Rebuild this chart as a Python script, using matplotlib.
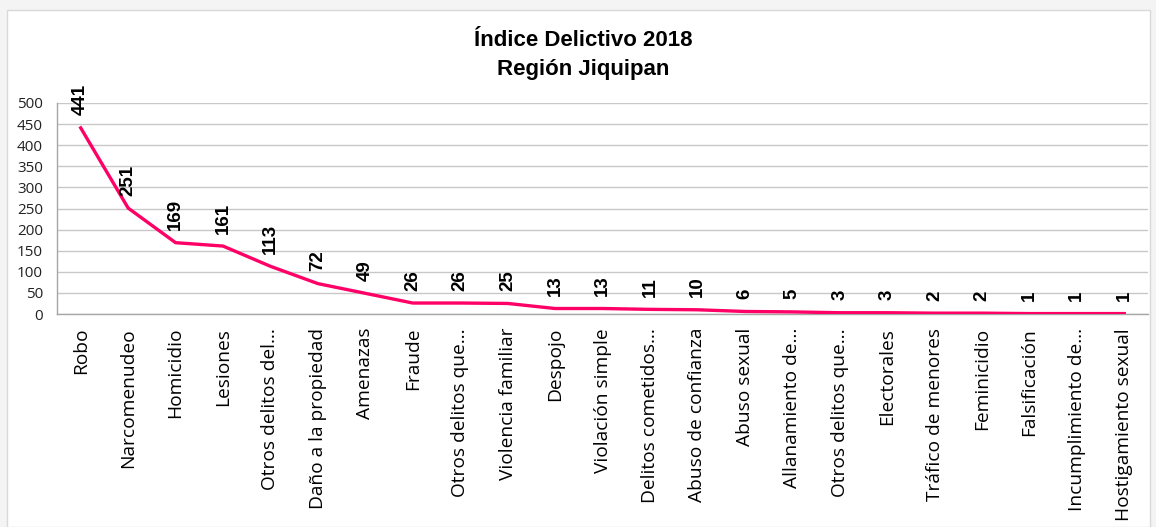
import matplotlib.pyplot as plt
from matplotlib.patches import Rectangle

categories = ["Robo", "Narcomenudeo", "Homicidio", "Lesiones", "Otros delitos del…",
              "Daño a la propiedad", "Amenazas", "Fraude", "Otros delitos que…",
              "Violencia familiar", "Despojo", "Violación simple", "Delitos cometidos…",
              "Abuso de confianza", "Abuso sexual", "Allanamiento de…", "Otros delitos que…",
              "Electorales", "Tráfico de menores", "Feminicidio", "Falsificación",
              "Incumplimiento de…", "Hostigamiento sexual"]
values = [441, 251, 169, 161, 113, 72, 49, 26, 26, 25, 13, 13, 11, 10, 6, 5, 3, 3, 2, 2, 1, 1, 1]
yticks = list(range(0, 501, 50))

plt.rcParams['font.family'] = ['Open Sans', 'DejaVu Sans']

fig = plt.figure(figsize=(11.56, 5.27), dpi=100)
fig.patch.set_facecolor('#f4f4f4')
# chart area border
fig.add_artist(Rectangle((7 / 1156, 0), 1143 / 1156, 1 - 10 / 527, transform=fig.transFigure,
                         facecolor='white', edgecolor='#d9d9d9', lw=1, zorder=0))

ax = fig.add_axes([57 / 1156, 1 - 314 / 527, 1091 / 1156, 211 / 527])
ax.set_facecolor('white')
x = list(range(len(categories)))
line_color = '#ff0066'
ax.plot(x, values, color=line_color, lw=2.4, solid_joinstyle='round', zorder=3)

for xi, v in zip(x, values):
    ax.annotate(str(v), (xi, v), xytext=(0, 9), textcoords='offset points',
                rotation=90, ha='center', va='bottom', fontsize=13.5, fontweight='bold',
                color='black', family=['Liberation Sans', 'DejaVu Sans'], annotation_clip=False)

ax.set_xlim(-0.5, len(categories) - 0.5)
ax.set_ylim(0, 500)
ax.set_yticks(yticks)
ax.set_xticks(x)
ax.set_xticklabels(categories, rotation=90, fontsize=13.8, color='black')
ax.tick_params(axis='x', length=0, pad=10)
ax.tick_params(axis='y', length=0, labelsize=11, pad=10, labelcolor='#222222')
ax.grid(axis='y', color='#c8c8c8', lw=1)
ax.set_axisbelow(True)
for s in ['top', 'right']:
    ax.spines[s].set_visible(False)
for s in ['left', 'bottom']:
    ax.spines[s].set_color('#a6a6a6')
    ax.spines[s].set_linewidth(1)

fig.text(583 / 1156, 1 - 40 / 527, "Índice Delictivo 2018", ha='center', va='center',
         fontsize=16, fontweight='bold', family=['Liberation Sans', 'DejaVu Sans'])
fig.text(583 / 1156, 1 - 70 / 527, "Región Jiquipan", ha='center', va='center',
         fontsize=16, fontweight='bold', family=['Liberation Sans', 'DejaVu Sans'])

fig.savefig('out.png', dpi=100, facecolor=fig.get_facecolor())
